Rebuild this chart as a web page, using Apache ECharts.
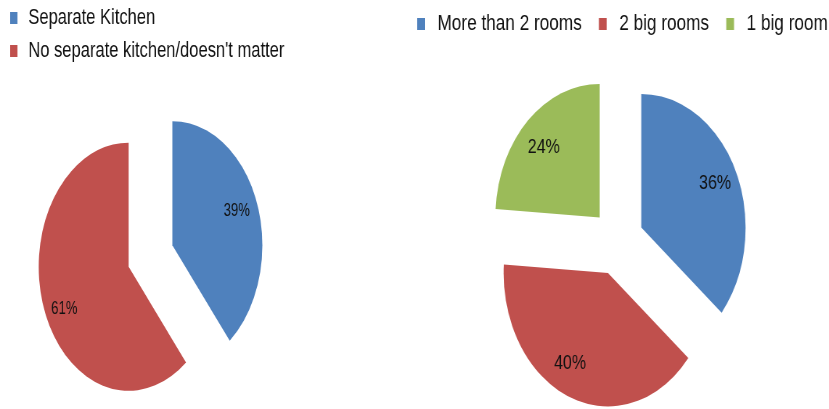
<!DOCTYPE html>
<html>
<head>
<meta charset="utf-8">
<script src="https://cdn.jsdelivr.net/npm/echarts@6/dist/echarts.min.js"></script>
<style>
  html, body { margin: 0; padding: 0; width: 829px; height: 409px; overflow: hidden; background: #fff; }
  #left { position: absolute; left: 0; top: 0; width: 551px; height: 409px; transform: scaleX(0.7257); transform-origin: 0 0; }
  #right { position: absolute; left: 400px; top: 0; width: 549px; height: 409px; transform: scaleX(0.78125); transform-origin: 0 0; }
</style>
</head>
<body>
<div id="left"></div>
<div id="right"></div>
<script>
const kitchenCategories = ['Separate Kitchen', "No separate kitchen/doesn't matter"];
const kitchenValues = [39, 61];
const roomCategories = ['More than 2 rooms', '2 big rooms', '1 big room'];
const roomValues = [36, 40, 24];
const kitchenColors = ['#4F81BD', '#C0504D'];
const roomColors = ['#4F81BD', '#C0504D', '#9BBB59'];

const FONT = '"Liberation Sans", Arial, sans-serif';

function buildData(names, values, colors, transparent) {
  return names.map((n, i) => ({
    name: n,
    value: values[i],
    selected: true,
    itemStyle: { color: transparent ? 'rgba(0,0,0,0)' : colors[i] }
  }));
}

function makeOption(names, values, colors, cfg) {
  const base = {
    type: 'pie',
    center: cfg.center,
    startAngle: 90,
    clockwise: true,
    selectedMode: 'multiple',
    selectedOffset: cfg.offset,
    avoidLabelOverlap: false,
    animation: false,
    emphasis: { disabled: true },
    percentPrecision: 0
  };
  return {
    animation: false,
    color: colors,
    legend: Object.assign({
      data: names,
      itemWidth: 10,
      itemHeight: 12,
      icon: 'rect',
      selectedMode: false,
      textStyle: { fontFamily: FONT, fontSize: cfg.legendFont, color: '#111', padding: [0, 0, 0, cfg.legendTextPad], lineHeight: 24 }
    }, cfg.legend),
    series: [
      Object.assign({}, base, {
        name: 'pie',
        radius: [0, cfg.r],
        label: { show: false },
        labelLine: { show: false },
        itemStyle: { borderWidth: 0 },
        select: { itemStyle: { borderWidth: 0 } },
        data: buildData(names, values, colors, false)
      }),
      Object.assign({}, base, {
        name: 'labels',
        silent: true,
        radius: [cfg.r * cfg.labelInner, cfg.r],
        label: {
          show: true,
          position: 'inside',
          formatter: '{d}%',
          fontFamily: FONT,
          fontSize: cfg.labelFont,
          color: '#111'
        },
        labelLayout: function (p) {
          const s = cfg.labelShifts[p.dataIndex] || [0, 0];
          return { dx: s[0], dy: s[1] };
        },
        labelLine: { show: false },
        itemStyle: { borderWidth: 0 },
        data: buildData(names, values, colors, true)
      })
    ]
  };
}

const left = echarts.init(document.getElementById('left'), null, { renderer: 'canvas' });
left.setOption(makeOption(kitchenCategories, kitchenValues, kitchenColors, {
  center: [207.4, 256],
  r: 124,
  offset: 32,
  labelInner: 0.54,
  labelShifts: [[-4, -1], [4, 9]],
  labelFont: 18,
  legendFont: 22.8,
  legendTextPad: 10,
  legend: { orient: 'vertical', left: 9, top: 1, itemGap: 9 }
}));

const right = echarts.init(document.getElementById('right'), null, { renderer: 'canvas' });
right.setOption(makeOption(roomCategories, roomValues, roomColors, {
  center: [278.5, 241.8],
  r: 133.5,
  offset: 33.5,
  labelInner: 0.52,
  labelShifts: [[0, 0], [-10, -7], [0, 6]],
  labelFont: 20.5,
  legendFont: 22,
  legendTextPad: 11,
  legend: { orient: 'horizontal', left: 17, top: 7, itemGap: 22, width: 900 }
}));
</script>
</body>
</html>
